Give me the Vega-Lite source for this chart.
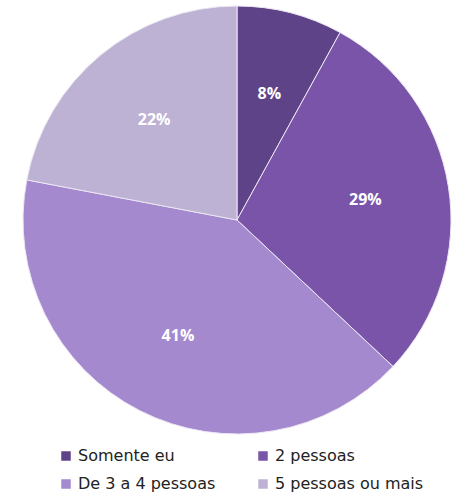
{
  "$schema": "https://vega.github.io/schema/vega-lite/v6.json",
  "width": 444,
  "height": 440,
  "autosize": {"type": "pad"},
  "padding": {"left": 15, "top": 0, "right": 0, "bottom": 0},
  "background": "white",
  "data": {"values": [
    {"categoria": "Somente eu", "pct": 8, "ord": 1, "rotulo": "8%"},
    {"categoria": "2 pessoas", "pct": 29, "ord": 2, "rotulo": "29%"},
    {"categoria": "De 3 a 4 pessoas", "pct": 41, "ord": 3, "rotulo": "41%"},
    {"categoria": "5 pessoas ou mais", "pct": 22, "ord": 4, "rotulo": "22%"}
  ]},
  "encoding": {
    "theta": {"field": "pct", "type": "quantitative", "stack": true},
    "order": {"field": "ord", "type": "quantitative"},
    "color": {
      "field": "categoria", "type": "nominal",
      "scale": {
        "domain": ["Somente eu", "De 3 a 4 pessoas", "2 pessoas", "5 pessoas ou mais"],
        "range": ["#5f4388", "#a489cf", "#7954a9", "#bdb2d3"]
      },
      "legend": {
        "title": null,
        "orient": "none",
        "legendX": 43,
        "legendY": 448,
        "columns": 2,
        "columnPadding": 39,
        "rowPadding": 12,
        "symbolType": "square",
        "symbolSize": 90,
        "symbolStrokeWidth": 0,
        "labelFont": "DejaVu Sans",
        "labelFontSize": 16,
        "labelOffset": 4,
        "labelColor": "#222222",
        "labelLimit": 300
      }
    }
  },
  "layer": [
    {"mark": {"type": "arc", "outerRadius": 214, "stroke": "#ece6f3", "strokeWidth": 1}},
    {
      "mark": {"type": "text", "radius": 130, "font": "Open Sans", "fontWeight": "bold", "fontSize": 16, "fill": "white"},
      "encoding": {"text": {"field": "rotulo"}, "color": {"value": "white"}}
    }
  ]
}
